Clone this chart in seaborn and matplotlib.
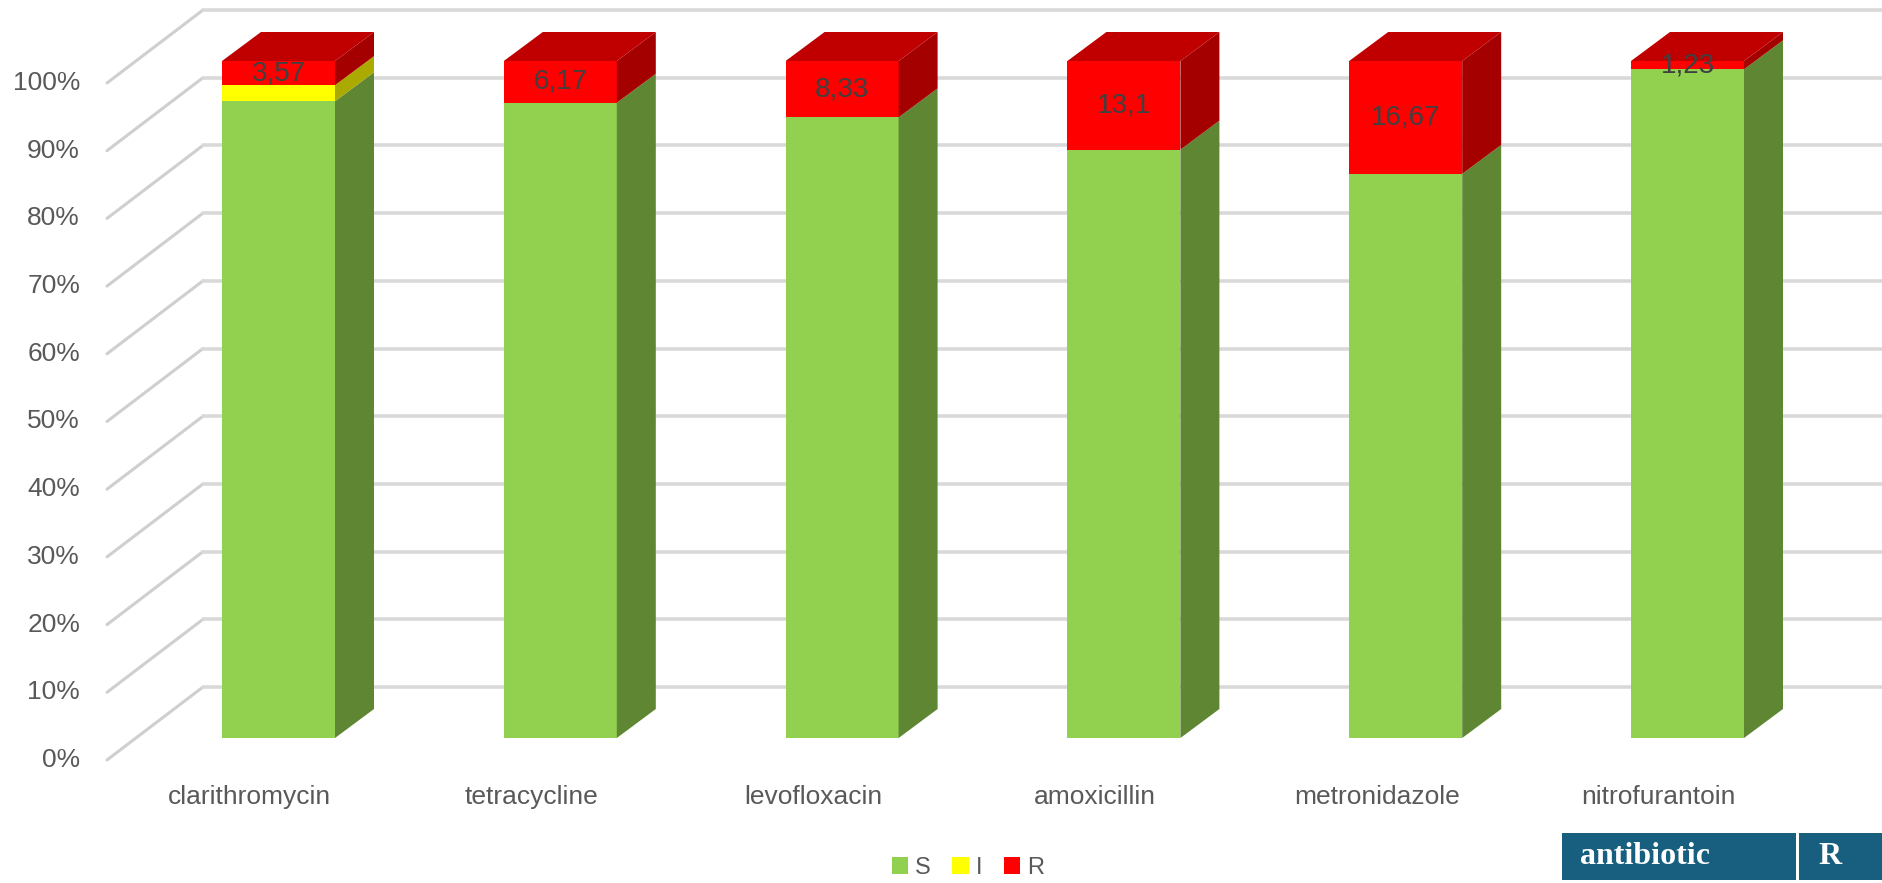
import matplotlib
matplotlib.use("Agg")
import matplotlib.pyplot as plt
import numpy as np
import pandas as pd
import seaborn as sns
from matplotlib.patches import Polygon, Patch, Rectangle

# ---- data -------------------------------------------------------------
antibiotics = ["clarithromycin", "tetracycline", "levofloxacin",
               "amoxicillin", "metronidazole", "nitrofurantoin"]
susceptible = [94.05, 93.83, 91.67, 86.90, 83.33, 98.77]
intermediate = [2.38, 0.0, 0.0, 0.0, 0.0, 0.0]
resistant = [3.57, 6.17, 8.33, 13.10, 16.67, 1.23]
resistant_labels = ["3,57", "6,17", "8,33", "13,1", "16,67", "1,23"]
percent_ticks = [0, 10, 20, 30, 40, 50, 60, 70, 80, 90, 100]
percent_tick_labels = [f"{t}%" for t in percent_ticks]
legend_labels = ["S", "I", "R"]
header_cells = ["antibiotic", "R"]

# ---- style ------------------------------------------------------------
front_col = {"S": "#92D050", "I": "#FFFF00", "R": "#FF0000"}
side_col = {"S": "#5E8633", "I": "#AAAA00", "R": "#A50000"}
top_col = {"S": "#76A83E", "I": "#CCCC00", "R": "#C00000"}
text_col = "#595959"
label_col = "#404040"
grid_col = "#D9D9D9"
wall_col = "#CFCFCF"
header_col = "#175E7F"

sns.set_theme(style="white")
plt.rcParams["font.family"] = ["Liberation Sans", "DejaVu Sans"]

W, H = 1883, 883
fig = plt.figure(figsize=(W / 100, H / 100), dpi=100)
# front plane of the bars: 0% at 738 px from top, 100% at 61 px
ax = fig.add_axes([0, (H - 738) / H, 1, (738 - 61) / H])

df = pd.DataFrame({"antibiotic": antibiotics, "S": susceptible,
                   "I": intermediate, "R": resistant})
df["top_S"] = df["S"]
df["top_I"] = df["S"] + df["I"]
df["top_R"] = df["S"] + df["I"] + df["R"]

bar_w = 0.401
for col, key in [("top_R", "R"), ("top_I", "I"), ("top_S", "S")]:
    sns.barplot(data=df, x="antibiotic", y=col, color=front_col[key],
                saturation=1, width=bar_w, ax=ax, zorder=3, linewidth=0)

ax.set_xlim(-278.5 / 281.8, (W - 278.5) / 281.8)
ax.set_ylim(0, 100)
ax.axis("off")


def px(xp, yp_top):
    """Figure pixel (from top-left) -> data coordinates."""
    return ax.transData.inverted().transform((xp, H - yp_top))


def px_delta(dx, dy_up):
    o = ax.transData.transform((0, 0))
    return ax.transData.inverted().transform((o[0] + dx, o[1] + dy_up))


# depth of each bar and offsets of the walls, in data units
depth_x, depth_y = px_delta(39, 29)
_, wall_front_dy = px_delta(0, -22)
_, wall_back_dy = px_delta(0, 51)
wall_front_x = px(107, 0)[0]
wall_back_x = px(203, 0)[0]
x_right = ax.get_xlim()[1]

# side wall diagonals and back wall gridlines
for v, lab in zip(percent_ticks, percent_tick_labels):
    ax.plot([wall_front_x, wall_back_x], [v + wall_front_dy, v + wall_back_dy],
            color=wall_col, lw=2.2, zorder=1, clip_on=False,
            solid_capstyle="round")
    ax.plot([wall_back_x, x_right], [v + wall_back_dy, v + wall_back_dy],
            color=grid_col, lw=2.6, zorder=1, clip_on=False)
    ax.text(px(80, 0)[0], v + wall_front_dy, lab, ha="right", va="center",
            fontsize=19, color=text_col, clip_on=False)

# 3-D side and top faces built from the bar geometry
green_bars = ax.containers[-1]
for i, patch in enumerate(green_bars.patches):
    xl = patch.get_x()
    xr = xl + patch.get_width()
    xc = xl + patch.get_width() / 2
    s, m, r = susceptible[i], intermediate[i], resistant[i]
    segs = [(0, s, "S"), (s, s + m, "I"), (s + m, s + m + r, "R")]
    for y0, y1, key in segs:
        if y1 - y0 <= 0:
            continue
        ax.add_patch(Polygon([(xr, y0), (xr + depth_x, y0 + depth_y),
                              (xr + depth_x, y1 + depth_y), (xr, y1)],
                             closed=True, facecolor=side_col[key],
                             edgecolor="none", zorder=3, clip_on=False))
    top = s + m + r
    ax.add_patch(Polygon([(xl, top), (xl + depth_x, top + depth_y),
                          (xr + depth_x, top + depth_y), (xr, top)],
                         closed=True, facecolor=top_col["R"],
                         edgecolor="none", zorder=3, clip_on=False))
    # value label in the middle of the resistant segment
    ax.text(xc, s + m + r / 2, resistant_labels[i], ha="center", va="center",
            fontsize=20, color=label_col, zorder=5, clip_on=False)
    # category label under the bar
    ax.text(xc + px_delta(-29, 0)[0], px(0, 797)[1], antibiotics[i],
            ha="center", va="center", fontsize=19, color=text_col,
            clip_on=False)

# legend
handles = [Patch(facecolor=front_col[k], edgecolor="none") for k in legend_labels]
leg = fig.legend(handles, legend_labels, loc="center",
                 bbox_to_anchor=(968 / W, (H - 868) / H), ncol=3,
                 frameon=False, fontsize=17, handlelength=0.7,
                 handleheight=0.7, handletextpad=0.3, columnspacing=0.9)
for t in leg.get_texts():
    t.set_color(text_col)

# table header strip at the lower right
fig.add_artist(Rectangle((1562 / W, (H - 880) / H), (1796 - 1562) / W, 47 / H,
                         transform=fig.transFigure, facecolor=header_col,
                         edgecolor="none"))
fig.add_artist(Rectangle((1799 / W, (H - 880) / H), (W - 1799) / W, 47 / H,
                         transform=fig.transFigure, facecolor=header_col,
                         edgecolor="none"))
for xp, txt in zip([1580, 1818], header_cells):
    fig.text(xp / W, (H - 857) / H, txt, ha="left", va="center",
             fontsize=23, fontweight="bold", color="white",
             family=["Liberation Serif", "DejaVu Serif"])

fig.savefig("out.png", dpi=100)
